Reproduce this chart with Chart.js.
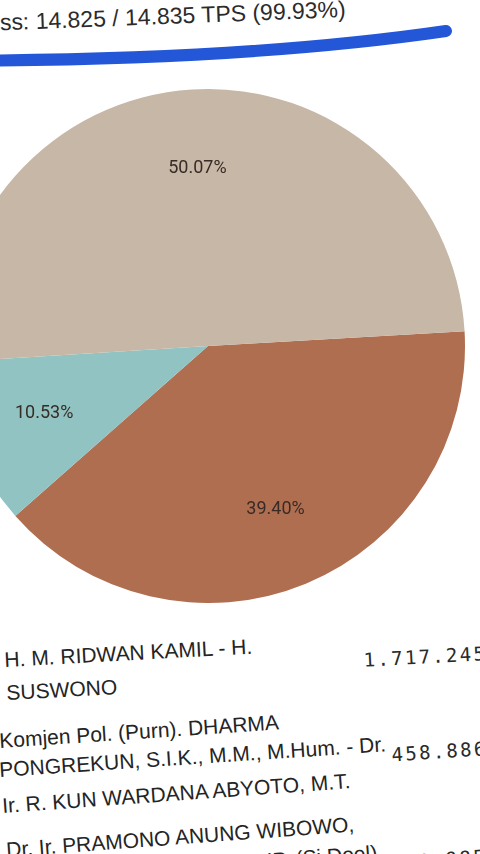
<!DOCTYPE html>
<html>
<head>
<meta charset="utf-8">
<script src="https://cdn.jsdelivr.net/npm/chart.js@4"></script>
<style>
  html, body { margin: 0; padding: 0; background: #fff; overflow: hidden; }
  body { width: 480px; height: 854px; position: relative; font-family: Roboto, "Noto Sans", sans-serif; }
  #progress {
    position: absolute; right: 134px; top: 0px; white-space: nowrap; line-height: 1;
    font-family: "Liberation Sans", sans-serif;
    font-size: 23px; color: #2b2b2b; transform: rotate(-2.2deg); transform-origin: right bottom;
  }
  #bar { position: absolute; left: 0; top: 0; }
  #pieBox { position: absolute; left: -49px; top: 89px; width: 514px; height: 514px; }
  .ln {
    position: absolute; white-space: nowrap; font-size: 21px; color: #242424;
    font-family: "Liberation Sans", sans-serif;
    transform-origin: left bottom; line-height: 1;
  }
  .val {
    position: absolute; white-space: nowrap; font-family: "DejaVu Sans Mono", monospace;
    font-size: 19px; letter-spacing: 2.3px; color: #2a2a2a; transform-origin: right bottom; line-height: 1;
  }
</style>
</head>
<body>
<div id="progress"></div>
<svg id="bar" width="480" height="90">
  <path d="M -10 60.5 Q 257 58.5 446 31" stroke="#2457d8" stroke-width="12" fill="none" stroke-linecap="round"/>
</svg>
<div id="pieBox"><canvas id="pieChart"></canvas></div>
<div id="legend"></div>

<script>
// data
const candidates = [
  'H. M. RIDWAN KAMIL - H. SUSWONO',
  'Komjen Pol. (Purn). DHARMA PONGREKUN, S.I.K., M.M., M.Hum. - Dr. Ir. R. KUN WARDANA ABYOTO, M.T.',
  'Dr. Ir. PRAMONO ANUNG WIBOWO, M.M. - Ir. RANO KARNO, S.IP. (Si Doel)'
];
const votes = [1717245, 458886, 2181985];
const tpsDone = 14825;
const tpsTotal = 14835;

// how the names wrap in the list under the chart
const nameLines = [
  ['H. M. RIDWAN KAMIL - H.', 'SUSWONO'],
  ['Komjen Pol. (Purn). DHARMA', 'PONGREKUN, S.I.K., M.M., M.Hum. - Dr.', 'Ir. R. KUN WARDANA ABYOTO, M.T.'],
  ['Dr. Ir. PRAMONO ANUNG WIBOWO,', 'M.M. - Ir. RANO KARNO, S.IP. (Si Doel)']
];

function fmt(n) {
  return String(n).replace(/\B(?=(\d{3})+(?!\d))/g, '.');
}

const total = votes.reduce((a, b) => a + b, 0);

document.getElementById('progress').textContent =
  'Progress: ' + fmt(tpsDone) + ' / ' + fmt(tpsTotal) + ' TPS (' + (tpsDone / tpsTotal * 100).toFixed(2) + '%)';

// percentage labels inside the slices
const pctLabels = {
  id: 'pctLabels',
  afterDatasetsDraw(chart) {
    const ctx = chart.ctx;
    const meta = chart.getDatasetMeta(0);
    ctx.save();
    ctx.font = '18px Roboto';
    ctx.fillStyle = '#382b25';
    ctx.textAlign = 'center';
    ctx.textBaseline = 'middle';
    meta.data.forEach((arc, i) => {
      const mid = (arc.startAngle + arc.endAngle) / 2;
      const r = arc.outerRadius * 0.69;
      const pct = (votes[i] / total * 100).toFixed(2) + '%';
      ctx.fillText(pct, arc.x + Math.cos(mid) * r, arc.y + Math.sin(mid) * r);
    });
    ctx.restore();
  }
};

new Chart(document.getElementById('pieChart'), {
  type: 'pie',
  data: {
    labels: candidates,
    datasets: [{
      data: votes,
      backgroundColor: ['#b06e51', '#90c3c2', '#c6b7a7'],
      borderWidth: 0
    }]
  },
  options: {
    responsive: true,
    maintainAspectRatio: false,
    animation: false,
    rotation: 86.7,
    layout: { padding: 0 },
    plugins: { legend: { display: false }, tooltip: { enabled: false } }
  },
  plugins: [pctLabels]
});

// list of candidates with vote counts (photographed at a slight tilt)
const legend = document.getElementById('legend');
const lineSpots = [
  [{ x: 5, y: 668, r: -3.1 }, { x: 7, y: 701, r: -3.1 }],
  [{ x: 0, y: 749, r: -3.8 }, { x: 0, y: 778, r: -3.8 }, { x: 3, y: 814, r: -4.1 }],
  [{ x: 7, y: 858, r: -4.2 }, { x: 7, y: 888, r: -4.2 }]
];
const valSpots = [{ right: -8, y: 661, r: -3.1 }, { right: -8, y: 756, r: -3.8 }, { right: -8, y: 864, r: -4.2 }];

nameLines.forEach((lines, i) => {
  lines.forEach((t, j) => {
    const s = lineSpots[i][j];
    const d = document.createElement('div');
    d.className = 'ln';
    d.textContent = t;
    d.style.left = s.x + 'px';
    d.style.top = (s.y - 19) + 'px';
    d.style.transform = 'rotate(' + s.r + 'deg)';
    legend.appendChild(d);
  });
  const v = valSpots[i];
  const d = document.createElement('div');
  d.className = 'val';
  d.textContent = fmt(votes[i]);
  d.style.right = v.right + 'px';
  d.style.top = (v.y - 17) + 'px';
  d.style.transform = 'rotate(' + v.r + 'deg)';
  legend.appendChild(d);
});

// place the progress line so its baseline sits where the photo has it
const pr = document.getElementById('progress');
pr.style.top = (21 - pr.offsetHeight) + 'px';
</script>
</body>
</html>
